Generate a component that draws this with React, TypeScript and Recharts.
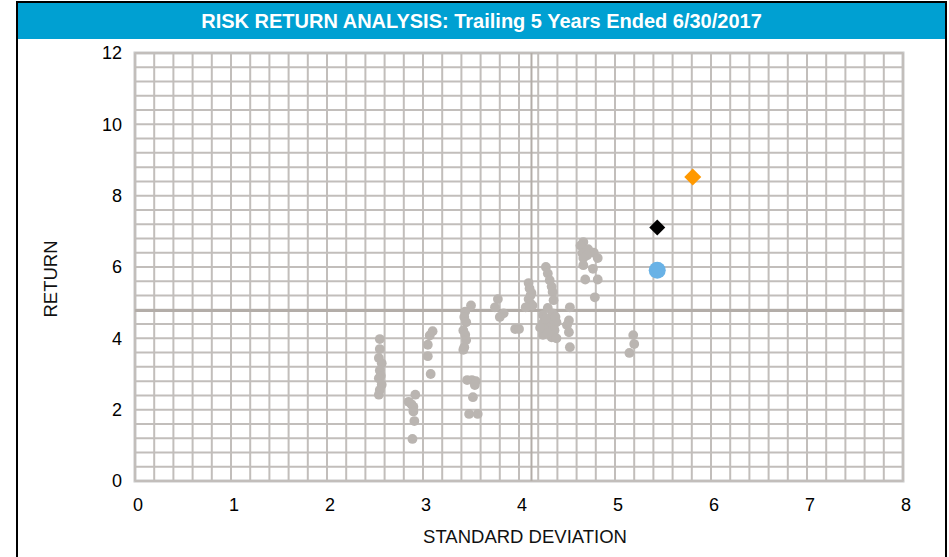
import React from 'react';
import {
  ScatterChart,
  Scatter,
  XAxis,
  YAxis,
  ReferenceLine,
  ReferenceArea,
  Label,
} from 'recharts';

const TITLE = 'RISK RETURN ANALYSIS: Trailing 5 Years Ended 6/30/2017';
const X_TITLE = 'STANDARD DEVIATION';
const Y_TITLE = 'RETURN';

const xTicks = [0, 1, 2, 3, 4, 5, 6, 7, 8];
const yTicks = [0, 2, 4, 6, 8, 10, 12];

// Peer universe (gray dots)
const peerSD = [
  2.55, 2.55, 2.54, 2.57, 2.55, 2.56, 2.54, 2.57, 2.55, 2.54,
  2.92, 2.85, 2.88, 2.9, 2.9, 2.91, 2.89,
  3.1, 3.07, 3.05, 3.05, 3.08,
  3.5, 3.44, 3.43, 3.45, 3.42, 3.44, 3.45, 3.43, 3.42,
  3.46, 3.51, 3.55, 3.54, 3.52, 3.48, 3.57,
  3.78, 3.75, 3.84, 3.8, 3.96, 4.0,
  4.1, 4.11, 4.13, 4.12, 4.1, 4.12, 4.14, 4.07,
  4.28, 4.3, 4.32, 4.34, 4.35, 4.36,
  4.3, 4.25, 4.35, 4.39, 4.25, 4.32, 4.27, 4.37, 4.34, 4.39, 4.25, 4.33, 4.28, 4.38, 4.22, 4.3,
  4.53, 4.52, 4.5, 4.52, 4.53,
  4.67, 4.64, 4.72, 4.78, 4.66, 4.71, 4.67, 4.82, 4.67, 4.77, 4.69, 4.82, 4.79,
  5.19, 5.2, 5.15,
];
const peerReturn = [
  3.98, 3.7, 3.45, 3.3, 3.1, 2.95, 2.88, 2.7, 2.55, 2.42,
  2.42, 2.22, 2.15, 2.08, 1.95, 1.68, 1.18,
  4.2, 4.08, 3.82, 3.5, 3.0,
  4.92, 4.75, 4.6, 4.45, 4.22, 4.1, 3.95, 3.75, 3.68,
  2.83, 2.83, 2.8, 2.69, 2.35, 1.88, 1.88,
  5.1, 4.87, 4.7, 4.6, 4.26, 4.26,
  5.55, 5.4, 5.27, 5.2, 5.1, 4.97, 4.92, 4.87,
  6.0, 5.82, 5.63, 5.45, 5.3, 5.07,
  4.85, 4.65, 4.7, 4.45, 4.43, 4.3, 4.23, 4.23, 4.03, 4.0, 4.1, 4.55, 4.55, 4.6, 4.3, 4.15,
  4.87, 4.5, 4.37, 4.17, 3.75,
  6.7, 6.6, 6.5, 6.4, 6.39, 6.33, 6.25, 6.25, 6.05, 5.95, 5.65, 5.65, 5.15,
  4.09, 3.84, 3.59,
];

const fundPoint = { sd: 5.44, ret: 5.91 };
const benchPoint = { sd: 5.44, ret: 7.11 };
const indexPoint = { sd: 5.81, ret: 8.52 };

const meanSD = 4.13;
const meanReturn = 4.78;

const peerData = peerSD.map((sd, i) => ({ sd, ret: peerReturn[i] }));

const gridX: number[] = [];
for (let i = 0; i <= 40; i++) gridX.push(Math.round(i * 0.2 * 100) / 100);
const gridY: number[] = [];
for (let i = 0; i <= 30; i++) gridY.push(Math.round(i * 0.4 * 100) / 100);

const GRID = '#c2bebb';
const MEAN = '#b3ada8';
const GRAY = '#bab5b1';
const FONT = '"Liberation Sans", Arial, sans-serif';

const dot = (r: number, fill: string) => (props: any) => (
  <circle cx={props.cx} cy={props.cy} r={r} fill={fill} />
);
const diamond = (s: number, fill: string) => (props: any) => (
  <polygon
    points={`${props.cx},${props.cy - s} ${props.cx + s},${props.cy} ${props.cx},${props.cy + s} ${props.cx - s},${props.cy}`}
    fill={fill}
  />
);

export default function App() {
  return (
    <div style={{ position: 'absolute', left: 0, top: 0, width: 949, height: 557, overflow: 'hidden', background: '#fff' }}>
      <div style={{ position: 'absolute', left: 16, top: 1, width: 931, height: 600, border: '2px solid #000', boxSizing: 'border-box' }} />
      <div
        style={{
          position: 'absolute', left: 18, top: 3, width: 927, height: 36, background: '#00A0D2',
          color: '#fff', fontFamily: FONT, fontWeight: 'bold', fontSize: 20, lineHeight: '36px', textAlign: 'center',
        }}
      >
        {TITLE}
      </div>
      <div style={{ position: 'absolute', left: 0, top: 0 }}>
        <ScatterChart width={949} height={557} margin={{ top: 53, right: 46, bottom: 0, left: 0 }}>
          <XAxis
            type="number"
            dataKey="sd"
            domain={[0, 8]}
            ticks={xTicks}
            allowDataOverflow
            axisLine={false}
            tickLine={false}
            tickMargin={11}
            height={76}
            tick={{ fill: '#000', fontSize: 18, fontFamily: FONT, dx: 3 }}
          >
            <Label
              content={(p: any) => {
                const vb = p.viewBox;
                return (
                  <text x={vb.x + vb.width / 2 + 6} y={557 - 14} textAnchor="middle" fill="#111" fontSize={18.5} fontFamily={FONT}>
                    {X_TITLE}
                  </text>
                );
              }}
            />
          </XAxis>
          <YAxis
            type="number"
            dataKey="ret"
            domain={[0, 12]}
            ticks={yTicks}
            allowDataOverflow
            axisLine={false}
            tickLine={false}
            tickMargin={7}
            width={135}
            tick={{ fill: '#000', fontSize: 18, fontFamily: FONT }}
          >
            <Label
              content={(p: any) => {
                const vb = p.viewBox;
                const cx = vb.x + 57;
                const cy = vb.y + vb.height / 2 + 12;
                return (
                  <text x={cx} y={cy} transform={`rotate(-90, ${cx}, ${cy})`} textAnchor="middle" fill="#111" fontSize={18.5} fontFamily={FONT}>
                    {Y_TITLE}
                  </text>
                );
              }}
            />
          </YAxis>
          {gridX.map((v) => (
            <ReferenceLine key={'gx' + v} x={v} stroke={GRID} strokeWidth={2} ifOverflow="visible" />
          ))}
          {gridY.map((v) => (
            <ReferenceLine key={'gy' + v} y={v} stroke={GRID} strokeWidth={2} ifOverflow="visible" />
          ))}
          <ReferenceLine x={meanSD} stroke={MEAN} strokeWidth={2} />
          <ReferenceLine y={meanReturn} stroke={MEAN} strokeWidth={3} />
          <ReferenceArea x1={0} x2={8} y1={0} y2={12} fill="none" stroke="#c8c8c8" strokeWidth={3} />
          <Scatter data={peerData} shape={dot(4.9, GRAY)} isAnimationActive={false} />
          <Scatter data={[fundPoint]} shape={dot(8.5, '#69B2E6')} isAnimationActive={false} />
          <Scatter data={[benchPoint]} shape={diamond(8, '#000')} isAnimationActive={false} />
          <Scatter data={[indexPoint]} shape={diamond(8.5, '#FF9900')} isAnimationActive={false} />
        </ScatterChart>
      </div>
    </div>
  );
}
